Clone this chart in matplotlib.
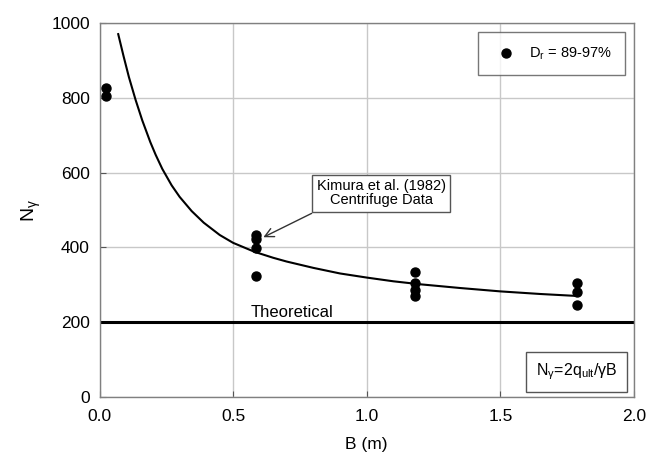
import matplotlib
matplotlib.use("Agg")
import matplotlib.pyplot as plt

plt.rcParams["font.family"] = ["Liberation Sans", "DejaVu Sans"]
plt.rcParams["mathtext.fontset"] = "custom"
plt.rcParams["mathtext.rm"] = "Liberation Sans"
plt.rcParams["mathtext.it"] = "Liberation Sans"
plt.rcParams["mathtext.bf"] = "Liberation Sans:bold"

# centrifuge data (Kimura et al. 1982), Dr = 89-97%
b_data = [0.024, 0.024,
          0.586, 0.586, 0.586, 0.586,
          1.18, 1.18, 1.18, 1.18,
          1.785, 1.785, 1.785]
n_data = [826, 805,
          434, 421, 397, 324,
          333, 304, 286, 270,
          304, 280, 246]

# fitted curve
b_curve = [0.07, 0.09, 0.11, 0.135, 0.16, 0.19, 0.21, 0.235, 0.27, 0.30,
           0.345, 0.39, 0.45, 0.5, 0.58, 0.65, 0.70, 0.80, 0.90, 1.0,
           1.1, 1.2, 1.35, 1.5, 1.65, 1.78]
n_curve = [971, 912, 856, 795, 740, 682, 648, 610, 566, 535,
           497, 466, 433, 412, 388, 372, 362, 345, 330, 319,
           309, 301, 291, 282, 275, 270]

n_theory = 200

fig = plt.figure(figsize=(6.59, 4.57), dpi=100)
ax = fig.add_axes([0.151, 0.132, 0.811, 0.817])

ax.grid(True, color="#c8c8c8", lw=1.0)
ax.set_axisbelow(True)

ax.plot(b_curve, n_curve, color="black", lw=1.5)
ax.axhline(n_theory, color="black", lw=2.2)
ax.scatter(b_data, n_data, s=42, color="black", zorder=3,
           label="D$_r$ = 89-97%")

ax.text(0.565, 213, "Theoretical", fontsize=12, ha="left", va="baseline")

ax.text(1.054, 545, "Kimura et al. (1982)\nCentrifuge Data", fontsize=10.5,
        ha="center", va="center", linespacing=1.0,
        bbox=dict(boxstyle="square,pad=0.3", fc="white", ec="#555555", lw=1))
ax.annotate("", xy=(0.613, 427), xytext=(0.794, 491),
            arrowprops=dict(arrowstyle="->", color="#333333", lw=1,
                            mutation_scale=16, shrinkA=0, shrinkB=0))

ax.text(0.893, 0.067, "N$_γ$=2q$_{ult}$/γB", transform=ax.transAxes,
        fontsize=11.5, ha="center", va="center",
        bbox=dict(boxstyle="square,pad=0.6", fc="white", ec="#555555", lw=1))

leg = ax.legend(loc="upper right", fontsize=10.5, frameon=True, fancybox=False,
                edgecolor="#555555", borderpad=0.9, handletextpad=0.6,
                borderaxespad=0.6, markerscale=1.0)
leg.get_frame().set_linewidth(1)

ax.set_xlim(0, 2.0)
ax.set_ylim(0, 1000)
ax.set_xticks([0.0, 0.5, 1.0, 1.5, 2.0])
ax.set_xticklabels(["0.0", "0.5", "1.0", "1.5", "2.0"])
ax.set_yticks([0, 200, 400, 600, 800, 1000])
ax.tick_params(axis="both", direction="in", length=4, color="#555555",
               labelsize=12.5)
ax.tick_params(axis="x", pad=9)
ax.tick_params(axis="y", pad=7)
for s in ax.spines.values():
    s.set_color("#808080")
    s.set_linewidth(1)

ax.set_xlabel("B (m)", fontsize=12.5, labelpad=9)
ax.set_ylabel("N$_γ$", fontsize=14, labelpad=6)

fig.savefig("out.png", dpi=100)
